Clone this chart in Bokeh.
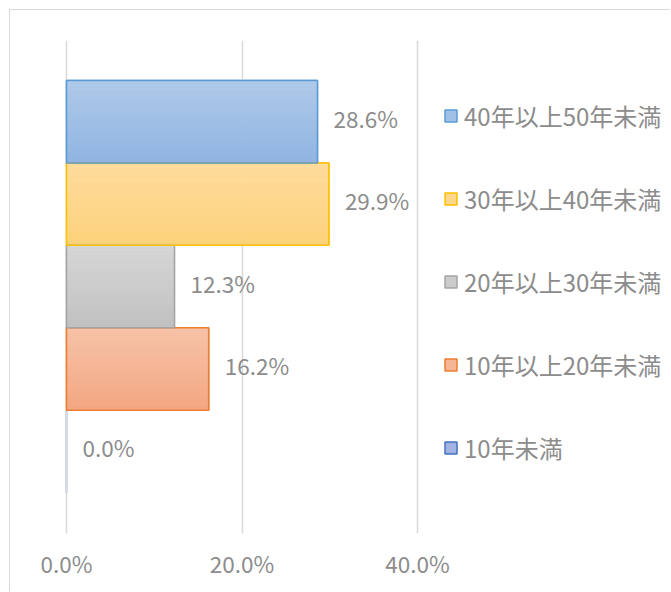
from bokeh.plotting import figure
from bokeh.models import (ColumnDataSource, FixedTicker, PrintfTickFormatter,
                          Legend, LegendItem, Range1d, CDSView, BooleanFilter)
from bokeh.core.properties import value
from bokeh.embed import file_html
from bokeh.resources import INLINE

# ---- data (bottom to top) ----
categories = ["10年未満", "10年以上20年未満", "20年以上30年未満", "30年以上40年未満", "40年以上50年未満"]
shares = [0.0, 16.2, 12.3, 29.9, 28.6]
x_ticks = [0, 20, 40]

# ---- styles ----
border_colors = ["#4472C4", "#ED7D31", "#A5A5A5", "#FFC000", "#5B9BD5"]
top_colors = ["#b4c1e6", "#f7c3a9", "#d7d7d7", "#fedc9e", "#b0cae9"]
bottom_colors = ["#8fa5da", "#f4a781", "#c1c1c1", "#fdd27b", "#90b5e2"]
FONT = "Noto Sans CJK JP"
TEXT_COLOR = "#8c8c8c"
FS = "22.5px"


def hex2rgb(h):
    h = h.lstrip("#")
    return tuple(int(h[i:i + 2], 16) for i in (0, 2, 4))


def mix(c1, c2, t):
    a, b = hex2rgb(c1), hex2rgb(c2)
    return "#%02x%02x%02x" % tuple(round(a[i] + (b[i] - a[i]) * t) for i in range(3))


p = figure(width=661, height=582, output_backend="svg", toolbar_location=None,
           x_range=Range1d(-0.684, 68.83), y_range=Range1d(-0.995, 4.985),
           min_border_left=50, min_border_right=1, min_border_top=30,
           min_border_bottom=59)
p.styles = {"margin-left": "9px", "margin-top": "9px",
            "border-left": "1px solid #d9d9d9", "border-top": "1px solid #d9d9d9"}
p.outline_line_color = None
p.background_fill_color = "white"
p.border_fill_color = "white"

# base bars (drawn beneath the grid; also used for the legend swatches)
idx = list(range(len(categories)))
base = ColumnDataSource(dict(
    left=[0] * len(shares), right=shares,
    bottom=[i - 0.5 for i in idx], top=[i + 0.5 for i in idx],
    fill=[mix(t, b, 0.5) for t, b in zip(top_colors, bottom_colors)],
    line=border_colors,
))
r_base = p.quad(left="left", right="right", bottom="bottom", top="top", source=base,
                fill_color="fill", line_color="line", line_width=1.5, level="image")

# gradient strips
n = 24
g = dict(left=[], right=[], bottom=[], top=[], color=[])
for i, v in enumerate(shares):
    if v <= 0:
        continue
    for k in range(n):
        g["left"].append(0)
        g["right"].append(v)
        g["top"].append(i + 0.5 - k / n)
        g["bottom"].append(i + 0.5 - (k + 1) / n)
        g["color"].append(mix(top_colors[i], bottom_colors[i], (k + 0.5) / n))
p.quad(left="left", right="right", bottom="bottom", top="top",
       source=ColumnDataSource(g), fill_color="color", line_color="color", line_width=0.5)

# borders on top (non-zero bars only)
p.quad(left="left", right="right", bottom="bottom", top="top", source=base,
       view=CDSView(filter=BooleanFilter([v > 0 for v in shares])),
       fill_alpha=0, line_color="line", line_width=1.5)

# data labels
lab = ColumnDataSource(dict(x=shares, y=idx, t=[f"{v:.1f}%" for v in shares]))
p.text(x="x", y="y", text="t", source=lab, x_offset=16, y_offset=-4,
       text_baseline="middle", text_align="left", text_font=value(FONT),
       text_font_size=FS, text_color=TEXT_COLOR)

# axes / grid
p.yaxis.visible = False
p.ygrid.visible = False
p.xaxis.ticker = FixedTicker(ticks=x_ticks)
p.xgrid.ticker = FixedTicker(ticks=x_ticks)
p.xaxis.formatter = PrintfTickFormatter(format="%.1f%%")
p.xaxis.axis_line_color = None
p.xaxis.major_tick_line_color = None
p.xaxis.minor_tick_line_color = None
p.xaxis.major_label_text_font = FONT
p.xaxis.major_label_text_font_size = FS
p.xaxis.major_label_text_color = TEXT_COLOR
p.xaxis.major_label_standoff = 7
p.xgrid.grid_line_color = "#d9d9d9"
p.xgrid.grid_line_width = 1.5

# legend
items = [LegendItem(label=categories[i], renderers=[r_base], index=i) for i in reversed(idx)]
legend = Legend(items=items, location=(383, 68), orientation="vertical",
                padding=0, margin=0, spacing=48, glyph_width=15, glyph_height=15,
                label_standoff=6, label_height=22,
                label_text_font=FONT, label_text_font_size="24px",
                label_text_color=TEXT_COLOR,
                border_line_alpha=0, background_fill_alpha=0)
p.add_layout(legend, "center")

open("out.html", "w").write(file_html(p, INLINE))
